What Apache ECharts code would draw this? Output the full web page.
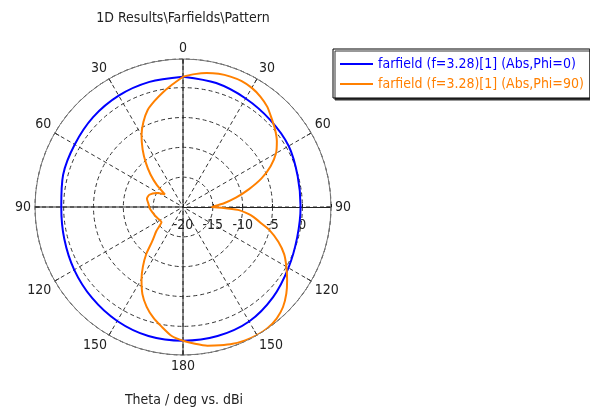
<!DOCTYPE html>
<html>
<head>
<meta charset="utf-8">
<script src="https://cdn.jsdelivr.net/npm/echarts@6/dist/echarts.min.js"></script>
<style>
  html, body { margin: 0; padding: 0; background: #fff; }
  #chart { width: 590px; height: 409px; }
</style>
</head>
<body>
<div id="chart"></div>
<script>
const FONT = '"DejaVu Sans Condensed", "Liberation Sans", sans-serif';

// Theta (deg) runs 0..360 clockwise from the top of the plot; the left half
// shows theta > 180 labelled as 360 - theta.
const thetaPhi0 = [0, 15, 30, 45, 60, 75, 90, 105, 120, 135, 150, 165, 180,
                   195, 210, 225, 240, 255, 270, 285, 300, 315, 330, 345, 360];
const gainPhi0 = [1.83, 1.5, 1.0, 0.65, 0.45, -0.1, -0.3, -0.2, 0.4, 1.35, 2.15, 2.38, 2.4,
                  2.38, 2.05, 1.55, 1.05, 0.6, 0.4, 0.8, 0.95, 1.3, 1.55, 1.7, 1.83];

const thetaPhi90 = [0, 5, 10, 15, 20, 25, 30, 35, 40, 45, 50, 55, 60, 65, 70, 75, 80, 85, 90,
                    91, 93, 96, 98, 102, 105, 110, 115, 120, 125, 130, 135, 140, 145, 150, 155, 160, 165, 170, 175, 180,
                    185, 190, 195, 200, 205, 210, 214, 218, 222, 228, 235, 242, 250, 260, 268, 275, 283, 290, 298,
                    305, 310, 315, 320, 325, 330, 335, 340, 345, 350, 355, 360];
const gainPhi90 = [1.83, 2.35, 2.8, 3.1, 3.25, 3.28, 3.05, 2.6, 1.95, 1.0, 0.15, -0.8, -2.0, -3.8, -6.0, -8.6, -11.0, -13.2, -15.2,
                   -13.5, -10.8, -9.0, -8.1, -6.5, -5.0, -3.0, -1.3, 0.0, 1.3, 2.6, 3.7, 4.4, 4.75, 4.8, 4.65, 4.4, 4.0, 3.6, 3.0, 2.4,
                   1.7, 0.4, -0.8, -2.2, -3.9, -6.1, -8.0, -10.0, -12.3, -14.0, -15.6, -15.5, -15.2, -14.8, -14.4, -14.2, -13.8, -14.0, -15.0,
                   -16.3, -14.3, -12.3, -10.3, -8.2, -6.1, -4.3, -2.7, -1.6, -0.5, 0.6, 1.83];

const seriesNames = ['farfield (f=3.28)[1] (Abs,Phi=0)', 'farfield (f=3.28)[1] (Abs,Phi=90)'];
const seriesColors = ['#0000ff', '#ff8000'];

const radiusMin = -20;
const radiusMax = 4.8;
const radiusStep = 5;
const angleStep = 30;

// The polar angle axis starts at 3 o'clock and runs clockwise,
// so theta (measured from 12 o'clock) is shifted by -90 deg.
const toAxisAngle = t => (((t - 90) % 360) + 360) % 360;
const toPairs = (thetas, gains) => thetas.map((t, i) => [gains[i], toAxisAngle(t)]);

const chart = echarts.init(document.getElementById('chart'), null, { renderer: 'canvas' });

const crossStyle = { color: '#222', width: 1 };
const gridDash = { color: '#333', type: [4, 3], width: 1 };

chart.setOption({
  animation: false,
  title: [
    {
      text: '1D Results\\Farfields\\Pattern',
      left: 178, top: 6, textAlign: 'center',
      textStyle: { fontFamily: FONT, fontSize: 14, fontWeight: 'normal', color: '#222' }
    },
    {
      text: 'Theta / deg vs. dBi',
      left: 179, top: 388, textAlign: 'center',
      textStyle: { fontFamily: FONT, fontSize: 14, fontWeight: 'normal', color: '#222' }
    }
  ],
  legend: {
    data: seriesNames.map((n, i) => ({ name: n, textStyle: { color: seriesColors[i] } })),
    orient: 'vertical',
    left: 333, top: 49,
    padding: [8, 6, 7, 7],
    icon: 'rect',
    itemWidth: 33, itemHeight: 2, itemGap: 6,
    borderColor: '#000', borderWidth: 1, borderRadius: 0,
    backgroundColor: '#fff',
    shadowColor: '#333', shadowOffsetX: 2, shadowOffsetY: 2, shadowBlur: 0,
    selectedMode: false,
    textStyle: { fontFamily: FONT, fontSize: 14 }
  },
  polar: { center: [183, 207], radius: 148 },
  angleAxis: {
    type: 'value', min: 0, max: 360, interval: angleStep,
    startAngle: 0, clockwise: true,
    axisLine: { lineStyle: { color: '#777', width: 1 } },
    axisTick: { show: true, inside: true, length: 5, lineStyle: { color: '#222' } },
    axisLabel: {
      margin: 4, color: '#222', fontFamily: FONT, fontSize: 14,
      formatter: v => {
        if (v >= 360) return '';
        const t = (v + 90) % 360;
        return String(t <= 180 ? t : 360 - t);
      }
    },
    splitLine: { show: true, lineStyle: gridDash }
  },
  radiusAxis: {
    min: radiusMin, max: radiusMax, interval: radiusStep,
    axisLine: { lineStyle: { color: '#222', width: 1 } },
    axisTick: { show: true, length: 3, lineStyle: { color: '#222' } },
    axisLabel: {
      margin: -18, verticalAlign: 'middle', align: 'center',
      color: '#222', fontFamily: FONT, fontSize: 14,
      formatter: v => (v % radiusStep === 0 ? String(v) : '')
    },
    splitLine: { show: true, lineStyle: gridDash }
  },
  series: [
    {
      name: 'axis-vertical', type: 'line', coordinateSystem: 'polar', silent: true,
      symbol: 'none', lineStyle: crossStyle, z: 1,
      data: [[radiusMax, toAxisAngle(0)], [radiusMin, toAxisAngle(0)], [radiusMax, toAxisAngle(180)]]
    },
    {
      name: 'axis-left', type: 'line', coordinateSystem: 'polar', silent: true,
      symbol: 'none', lineStyle: crossStyle, z: 1,
      data: [[radiusMax, toAxisAngle(270)], [radiusMin, toAxisAngle(270)]]
    },
    {
      name: seriesNames[0], type: 'line', coordinateSystem: 'polar',
      symbol: 'none', smooth: 0.3, z: 3,
      lineStyle: { color: seriesColors[0], width: 2 }, itemStyle: { color: seriesColors[0] },
      data: toPairs(thetaPhi0, gainPhi0)
    },
    {
      name: seriesNames[1], type: 'line', coordinateSystem: 'polar',
      symbol: 'none', smooth: 0.2, z: 4,
      lineStyle: { color: seriesColors[1], width: 2 }, itemStyle: { color: seriesColors[1] },
      data: toPairs(thetaPhi90, gainPhi90)
    }
  ]
});
</script>
</body>
</html>
